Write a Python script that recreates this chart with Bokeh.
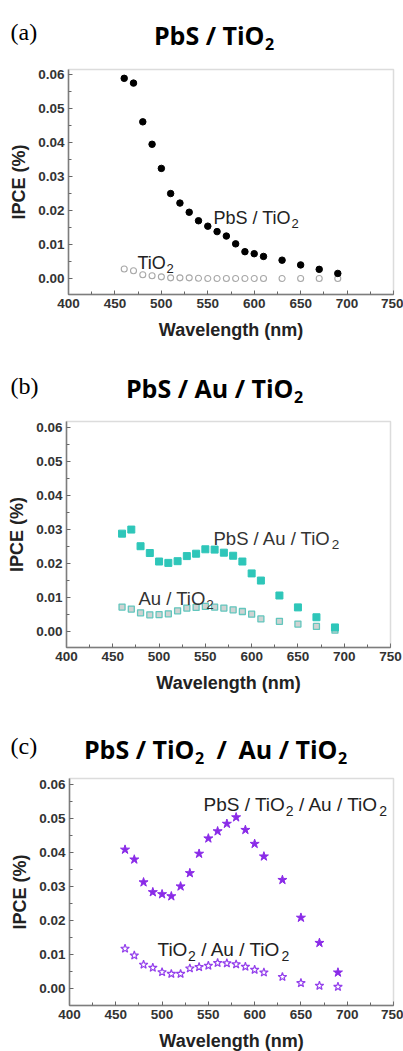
from bokeh.plotting import figure
from bokeh.layouts import column
from bokeh.models import (Label, SingleIntervalTicker, NumeralTickFormatter, Range1d,
                          BoxAnnotation)
from bokeh.embed import file_html
from bokeh.resources import INLINE

# ---------------- data ----------------
wavelength = [460, 470, 480, 490, 500, 510, 520, 530, 540, 550, 560, 570, 580, 590,
              600, 610, 630, 650, 670, 690]

pbs_tio2 = [0.0589, 0.0575, 0.0461, 0.0395, 0.0324, 0.0250, 0.0222, 0.0195, 0.0170, 0.0154,
            0.0138, 0.0125, 0.0102, 0.0079, 0.0073, 0.0065, 0.0054, 0.0040, 0.0027, 0.0015]
tio2 = [0.0028, 0.0023, 0.0011, 0.0008, 0.0005, 0.0002, 0.0002, 0.0002, 0.0001, 0.0000,
        0.0000, 0.0000, 0.0000, 0.0000, 0.0000, 0.0000, 0.0000, 0.0000, 0.0000, 0.0000]

pbs_au_tio2 = [0.0288, 0.0300, 0.0251, 0.0231, 0.0206, 0.0202, 0.0207, 0.0222, 0.0229, 0.0242,
               0.0241, 0.0232, 0.0223, 0.0206, 0.0171, 0.0150, 0.0106, 0.0071, 0.0042, 0.0012]
au_tio2 = [0.0072, 0.0066, 0.0055, 0.0049, 0.0050, 0.0052, 0.0061, 0.0069, 0.0071, 0.0074,
           0.0072, 0.0069, 0.0064, 0.0059, 0.0051, 0.0037, 0.0030, 0.0022, 0.0015, 0.0004]

pbs_tio2_au_tio2 = [0.0409, 0.0380, 0.0313, 0.0284, 0.0278, 0.0272, 0.0301, 0.0340, 0.0397, 0.0442,
                    0.0463, 0.0485, 0.0504, 0.0467, 0.0426, 0.0389, 0.0320, 0.0209, 0.0135, 0.0048]
tio2_au_tio2 = [0.0118, 0.0098, 0.0071, 0.0062, 0.0049, 0.0044, 0.0044, 0.0060, 0.0064, 0.0068,
                0.0076, 0.0075, 0.0072, 0.0065, 0.0056, 0.0048, 0.0035, 0.0017, 0.0009, 0.0006]

x_label = "Wavelength (nm)"
y_label = "IPCE (%)"
x_lo, x_hi = 400, 750

AXF = "Liberation Sans"
TITLEF = "Open Sans"
SERIF = "Liberation Serif"
W = 403

# Arial / Liberation Sans advance widths (per 1000 em) for chaining text pieces
ARIAL = {' ': 278, '/': 278, 'P': 667, 'b': 556, 'S': 667, 'T': 611, 'i': 222,
         'O': 778, 'A': 667, 'u': 556, '2': 556}


def tw(s, size):
    return sum(ARIAL[c] for c in s) * size / 1000.0


def panel(P0, H, L, R, T, B, ytop, ybot):
    """Whole panel is the frame; the boxed plot area is drawn at page px L..R, T..B."""
    s = (R - L) / (x_hi - x_lo)
    k = (B - T) / (ytop - ybot)
    xr = Range1d(x_lo - L / s, x_lo + (W - L) / s)
    yr = Range1d(ybot - (P0 + H - B) / k, ytop + (T - P0) / k)
    p = figure(width=W, height=H, output_backend="svg", toolbar_location=None,
               x_range=xr, y_range=yr, min_border=0, min_border_left=0,
               min_border_right=0, min_border_top=0, min_border_bottom=0)
    p.grid.visible = False
    p.outline_line_color = None
    p.background_fill_color = "white"
    p.border_fill_color = "white"
    p.xaxis.fixed_location = ybot
    p.yaxis.fixed_location = x_lo
    p.xaxis.bounds = (x_lo, x_hi)
    p.yaxis.bounds = (ybot, ytop)
    p.xaxis.ticker = SingleIntervalTicker(interval=50, num_minor_ticks=2)
    p.yaxis.ticker = SingleIntervalTicker(interval=0.01, num_minor_ticks=2)
    p.yaxis.formatter = NumeralTickFormatter(format="0.00")
    for ax in (p.xaxis[0], p.yaxis[0]):
        ax.axis_line_color = "#777777"
        ax.axis_line_width = 1.5
        ax.major_tick_in = 4
        ax.major_tick_out = 0
        ax.minor_tick_in = 3
        ax.minor_tick_out = 0
        ax.major_tick_line_color = "#666666"
        ax.minor_tick_line_color = "#666666"
        ax.major_label_text_font = AXF
        ax.major_label_text_font_style = "bold"
        ax.major_label_text_font_size = "13.5px"
        ax.major_label_text_color = "#333333"
        ax.major_label_standoff = 4
        ax.axis_label_text_font = AXF
        ax.axis_label_text_font_style = "bold"
        ax.axis_label_text_font_size = "18px"
        ax.axis_label_text_color = "#222222"
    p.xaxis.axis_label = x_label
    p.yaxis.axis_label = y_label
    p.xaxis.axis_label_standoff = 9
    p.yaxis.axis_label_standoff = 6
    p.add_layout(BoxAnnotation(left=x_lo, right=x_hi, bottom=ybot, top=ytop,
                               fill_color=None, fill_alpha=0,
                               line_color="#8c8c8c", line_width=1.5))
    p._P0 = P0
    p._H = H
    return p


def txt(p, x, y, text, size, font=AXF, style="normal", color="#222222", align="left"):
    p.add_layout(Label(x=x, y=p._P0 + p._H - y, x_units="screen", y_units="screen",
                       text=text, text_font=font, text_font_size=size,
                       text_font_style=style, text_align=align,
                       text_baseline="alphabetic", text_color=color))


def chem(p, x, y, pieces, size, sub, color="#222222"):
    """Chain normal pieces and subscript '2' pieces (Liberation Sans metrics)."""
    for piece, is_sub in pieces:
        sz = sub if is_sub else size
        lead = len(piece) - len(piece.lstrip(" "))
        x += tw(" " * lead, sz)
        core = piece.strip(" ")
        txt(p, x, y + (6 if is_sub else 0), core, f"{sz}px", color=color)
        x += tw(core, sz)


def title(p, y, pieces):
    """Panel title: each main piece is right-aligned at the x where its subscript starts."""
    for main, xsub in pieces:
        txt(p, xsub, y, main, "25px", font=TITLEF, style="bold", color="black", align="right")
        txt(p, xsub + 0.5, y + 9, "2", "16px", font=TITLEF, style="bold", color="black")


# ---------------- (a) ----------------
pa = panel(0, 350, 68, 393, 69, 294, 0.0615, -0.0047)
pa.scatter(wavelength, tio2, marker="circle", size=6, line_color="#a8a8a8",
           fill_color="white", line_width=1.1)
pa.scatter(wavelength, pbs_tio2, marker="circle", size=6.5, line_color="black",
           fill_color="black")
txt(pa, 10, 31, "(a)", "24px", font=SERIF, color="black")
title(pa, 34, [("PbS / TiO", 264)])
chem(pa, 213, 217, [("PbS / TiO", False), ("2", True)], 18, 13)
chem(pa, 137, 262, [("TiO", False), ("2", True)], 18, 13)

# ---------------- (b) ----------------
pb = panel(350, 350, 66, 390, 421, 647, 0.0618, -0.0047)
pb.scatter(wavelength, au_tio2, marker="square", size=6, line_color="#62c6bd",
           fill_color="#cfd3d2", line_width=1.3)
pb.scatter(wavelength, pbs_au_tio2, marker="square", size=7, line_color="#2ec6b9",
           fill_color="#2ec6b9")
txt(pb, 10, 385, "(b)", "24px", font=SERIF, color="black")
title(pb, 387, [("PbS / Au / TiO", 293)])
chem(pb, 213, 538, [("PbS / Au / TiO", False), ("2", True)], 18.5, 13.5, color="#333333")
chem(pb, 138, 598, [("Au / TiO", False), ("2", True)], 18.5, 13.5, color="#333333")

# ---------------- (c) ----------------
pc = panel(700, 351, 69, 393, 778, 1005, 0.0618, -0.0049)
pc.scatter(wavelength, tio2_au_tio2, marker="star", size=9, line_color="#9440ec",
           fill_color="white", line_width=1.2)
pc.scatter(wavelength, pbs_tio2_au_tio2, marker="star", size=9.5, line_color="#8a2be8",
           fill_color="#8a2be8")
txt(pc, 10, 745, "(c)", "24px", font=SERIF, color="black")
title(pc, 748, [("PbS / TiO", 194), ("Au / TiO", 337)])
txt(pc, 216, 748, "/", "25px", font=TITLEF, style="bold", color="black")
chem(pc, 203, 804, [("PbS / TiO", False), ("2", True), (" / Au / TiO", False), ("2", True)], 19, 14)
chem(pc, 157, 949, [("TiO", False), ("2", True), (" / Au / TiO", False), ("2", True)], 19, 14)

layout = column(pa, pb, pc, spacing=0)
open("out.html", "w").write(file_html(layout, INLINE))
